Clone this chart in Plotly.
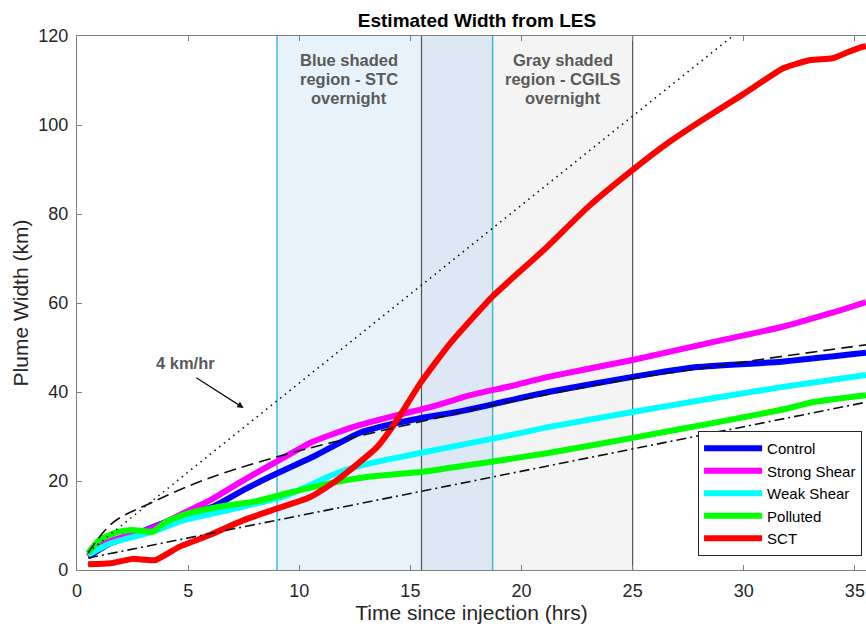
import plotly.graph_objects as go

# ---------------- data ----------------
control_t = [0.5, 1.5, 3.0, 4.5, 6.1, 7.5, 8.7, 10.6, 12.7, 14.0, 15.45, 17.1, 19.2, 21.2, 25.0, 27.9, 31.7, 35.5]
control_y = [3.0, 6.0, 8.8, 11.8, 14.2, 18.0, 21.0, 25.4, 30.8, 32.6, 34.1, 35.5, 37.8, 40.0, 43.4, 45.6, 46.8, 48.8]

strong_t = [0.5, 1.2, 3.4, 4.8, 6.0, 7.5, 9.0, 10.6, 12.4, 14.4, 15.9, 17.7, 19.5, 21.2, 25.0, 28.6, 31.7, 33.9, 35.5]
strong_y = [3.2, 6.0, 9.4, 12.8, 15.7, 20.2, 24.4, 28.8, 32.1, 34.8, 36.6, 39.3, 41.3, 43.4, 47.2, 51.2, 54.6, 57.7, 60.2]

weak_t = [0.5, 1.5, 3.4, 4.8, 6.4, 8.1, 9.5, 11.7, 13.2, 15.45, 19.5, 21.2, 25.0, 28.6, 31.7, 35.5]
weak_y = [3.4, 6.0, 8.6, 11.2, 13.0, 15.0, 16.9, 21.8, 24.0, 26.3, 30.3, 32.1, 35.5, 38.6, 41.1, 43.8]

polluted_t = [0.5, 1.0, 1.8, 2.5, 3.4, 4.0, 5.0, 6.4, 8.1, 9.5, 11.7, 13.2, 15.45, 18.2, 21.2, 25.0, 28.6, 31.7, 33.2, 35.5]
polluted_y = [3.8, 6.7, 8.5, 9.0, 8.6, 10.8, 12.7, 14.2, 15.5, 17.3, 19.8, 21.0, 22.0, 24.0, 26.3, 29.7, 33.0, 36.0, 37.8, 39.3]

sct_t = [0.5, 1.5, 2.5, 3.5, 4.6, 6.0, 7.5, 8.7, 10.5, 11.7, 13.5, 14.4, 15.45, 16.8, 18.7, 21.0, 23.0, 25.0, 26.6, 28.1, 30.0, 31.8, 33.0, 34.0, 34.7, 35.3, 35.5]
sct_y = [1.3, 1.5, 2.5, 2.2, 5.2, 7.9, 11.2, 13.3, 16.4, 20.2, 27.6, 33.7, 42.0, 51.0, 61.5, 71.9, 81.6, 89.9, 96.0, 101.0, 107.0, 112.8, 114.6, 115.0, 116.4, 117.5, 117.7]

# reference growth lines
dotted_t = [0.5, 29.5]          # "4 km/hr"
dotted_y = [4.0, 120.0]
dashed_t = [0.5, 1.6, 3.3, 5.7, 8.7, 12.0, 15.45, 18.2, 21.0, 25.0, 28.6, 32.0, 35.5]
dashed_y = [3.8, 10.6, 15.0, 20.2, 25.0, 29.3, 33.3, 36.5, 39.3, 43.0, 45.7, 48.2, 50.6]
dashdot_t = [0.5, 35.5]
dashdot_y = [2.7, 37.7]

series_names = ["Control", "Strong Shear", "Weak Shear", "Polluted", "SCT"]
series_colors = ["#0000ff", "#ff00ff", "#00ffff", "#00ff00", "#ff0000"]

blue_region = [9.0, 18.7]    # STC overnight
gray_region = [15.5, 25.0]   # CGILS overnight
blue_label = ["Blue shaded", "region - STC", "overnight"]
gray_label = ["Gray shaded", "region - CGILS", "overnight"]

x_ticks = [0, 5, 10, 15, 20, 25, 30, 35]
y_ticks = [0, 20, 40, 60, 80, 100, 120]

# ---------------- figure ----------------
FONT = "Liberation Sans, Arial, Helvetica, sans-serif"
fig = go.Figure()

# shaded regions
fig.add_shape(type="rect", xref="x", yref="y", x0=blue_region[0], x1=gray_region[0], y0=0, y1=120,
              fillcolor="#e8f2fa", line_width=0, layer="below")
fig.add_shape(type="rect", xref="x", yref="y", x0=gray_region[0], x1=blue_region[1], y0=0, y1=120,
              fillcolor="#dde8f4", line_width=0, layer="below")
fig.add_shape(type="rect", xref="x", yref="y", x0=blue_region[1], x1=gray_region[1], y0=0, y1=120,
              fillcolor="#f4f4f4", line_width=0, layer="below")
for xv in gray_region:
    fig.add_shape(type="line", xref="x", yref="y", x0=xv, x1=xv, y0=0, y1=120,
                  line=dict(color="#555555", width=1.2), layer="below")
for xv in blue_region:
    fig.add_shape(type="line", xref="x", yref="y", x0=xv, x1=xv, y0=0, y1=120,
                  line=dict(color="#3db8dc", width=1.5), layer="below")

all_t = [control_t, strong_t, weak_t, polluted_t, sct_t]
all_y = [control_y, strong_y, weak_y, polluted_y, sct_y]
for name, col, tt, yy in zip(series_names, series_colors, all_t, all_y):
    fig.add_trace(go.Scatter(x=tt, y=yy, mode="lines", name=name,
                             line=dict(color=col, width=6, shape="spline", smoothing=0.5)))

fig.add_trace(go.Scatter(x=dotted_t, y=dotted_y, mode="lines", showlegend=False,
                         line=dict(color="#111111", width=1.6, dash="1.5px,4.5px")))
fig.add_trace(go.Scatter(x=dashed_t, y=dashed_y, mode="lines", showlegend=False,
                         line=dict(color="#111111", width=1.6, dash="12px,6px", shape="spline")))
fig.add_trace(go.Scatter(x=dashdot_t, y=dashdot_y, mode="lines", showlegend=False,
                         line=dict(color="#111111", width=1.6, dash="10px,4px,2px,4px")))

# texts (one annotation per line for tight line spacing)
label_rows_y = [114.6, 110.3, 106.0]
for txt, yv in zip(blue_label, label_rows_y):
    fig.add_annotation(x=12.25, y=yv, xref="x", yref="y", showarrow=False, text="<b>" + txt + "</b>",
                       font=dict(family=FONT, size=16.5, color="#5a5a5a"))
for txt, yv in zip(gray_label, label_rows_y):
    fig.add_annotation(x=21.85, y=yv, xref="x", yref="y", showarrow=False, text="<b>" + txt + "</b>",
                       font=dict(family=FONT, size=16.5, color="#5a5a5a"))
fig.add_annotation(x=4.86, y=46.5, xref="x", yref="y", showarrow=False,
                   text="<b>4 km/hr</b>", font=dict(family=FONT, size=16.5, color="#5a5a5a"))
fig.add_annotation(x=7.5, y=36.4, ax=5.3, ay=43.4, xref="x", yref="y", axref="x", ayref="y",
                   text="", showarrow=True, arrowhead=2, arrowsize=1, arrowwidth=1.3,
                   arrowcolor="#111111")

fig.update_layout(
    width=866, height=627,
    margin=dict(l=77, r=0, t=36, b=57),
    paper_bgcolor="white", plot_bgcolor="white",
    font=dict(family=FONT, size=18, color="#262626"),
    title=dict(text="<b>Estimated Width from LES</b>", x=477 / 866, xanchor="center",
               y=1 - 20 / 627, yanchor="middle", font=dict(family=FONT, size=19, color="black")),
    showlegend=True,
    legend=dict(x=0.995, y=0.026, xanchor="right", yanchor="bottom",
                bgcolor="white", bordercolor="#262626", borderwidth=1,
                font=dict(family=FONT, size=15, color="black"),
                itemwidth=58, tracegroupgap=0),
)
fig.update_xaxes(range=[0, 35.5], tickvals=x_ticks, ticks="inside", ticklen=5, tickcolor="#7f7f7f",
                 showline=True, linecolor="#7f7f7f", linewidth=1.2, mirror="ticks",
                 showgrid=False, zeroline=False, ticklabelstandoff=4,
                 tickfont=dict(size=18, color="#262626"),
                 title=dict(text="Time since injection (hrs)", font=dict(size=21), standoff=4))
fig.update_yaxes(range=[0, 120], tickvals=y_ticks, ticks="inside", ticklen=5, tickcolor="#7f7f7f",
                 showline=True, linecolor="#7f7f7f", linewidth=1.2,
                 showgrid=False, zeroline=False, ticklabelstandoff=4,
                 tickfont=dict(size=18, color="#262626"),
                 title=dict(text="Plume Width (km)", font=dict(size=21), standoff=3))

fig.write_html("out.html")
